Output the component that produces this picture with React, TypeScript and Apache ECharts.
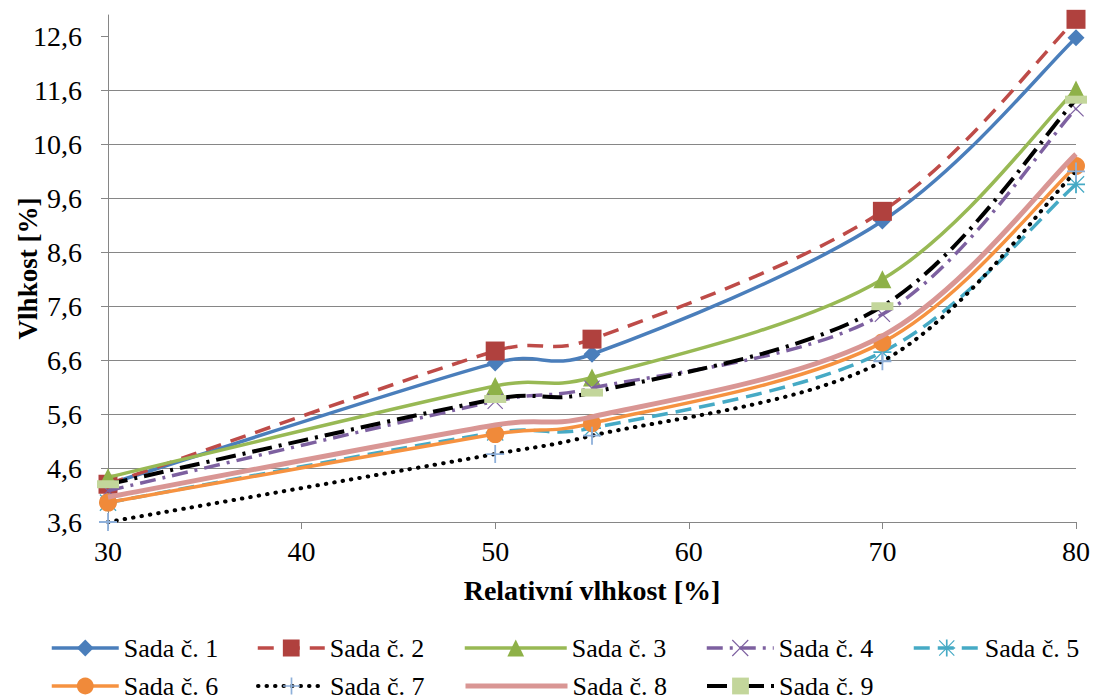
import React, { useEffect, useRef } from "react";
import * as echarts from "echarts";

const xValues = [30, 50, 55, 70, 80];
const sada1 = [4.3, 6.55, 6.71, 9.18, 12.58];
const sada2 = [4.3, 6.77, 6.99, 9.36, 12.92];
const sada3 = [4.43, 6.12, 6.28, 8.1, 11.62];
const sada4 = [4.18, 5.84, 6.08, 7.45, 11.26];
const sada5 = [3.96, 5.26, 5.34, 6.75, 9.86];
const sada6 = [3.96, 5.23, 5.43, 6.93, 10.2];
const sada7 = [3.6, 4.86, 5.2, 6.58, 10.1];
const sada8 = [4.06, 5.4, 5.55, 7.05, 10.42];
const sada9 = [4.3, 5.88, 6.0, 7.6, 11.43];
const seriesNames = ["Sada č. 1", "Sada č. 2", "Sada č. 3", "Sada č. 4", "Sada č. 5", "Sada č. 6", "Sada č. 7", "Sada č. 8", "Sada č. 9"];
const yTicks = [3.6, 4.6, 5.6, 6.6, 7.6, 8.6, 9.6, 10.6, 11.6, 12.6];
const xTicks = [30, 40, 50, 60, 70, 80];

const FONT = "Liberation Serif, Times New Roman, serif";

const X_PATH = "path://M1,0 L10,9 L19,0 L20,1 L11,10 L20,19 L19,20 L10,11 L1,20 L0,19 L9,10 L0,1 Z";
const PLUS_PATH = "path://M9,0 H11 V9 H20 V11 H11 V20 H9 V11 H0 V9 H9 Z";
const STAR_PATH =
  "path://M9,0 H11 V9 H20 V11 H11 V20 H9 V11 H0 V9 H9 Z M1.5,0.5 L10,9 L18.5,0.5 L19.5,1.5 L11,10 L19.5,18.5 L18.5,19.5 L10,11 L1.5,19.5 L0.5,18.5 L9,10 L0.5,1.5 Z";
const BAR_PATH = "path://M0,0 H22 V8 H0 Z";

let registered = false;
function registerCurve() {
  if (registered) return;
  registered = true;
  echarts.graphic.registerShape(
    "excelCurve",
    (echarts.graphic as any).extendShape({
      type: "excelCurve",
      shape: { points: [] as number[][] },
      buildPath(ctx: any, shape: any) {
        const p = shape.points;
        if (!p || p.length < 2) return;
        ctx.moveTo(p[0][0], p[0][1]);
        for (let i = 0; i < p.length - 1; i++) {
          const p0 = p[i - 1] || p[i];
          const p1 = p[i];
          const p2 = p[i + 1];
          const p3 = p[i + 2] || p[i + 1];
          const seg = Math.hypot(p2[0] - p1[0], p2[1] - p1[1]);
          let t1x = (p2[0] - p0[0]) / 6;
          let t1y = (p2[1] - p0[1]) / 6;
          let t2x = (p3[0] - p1[0]) / 6;
          let t2y = (p3[1] - p1[1]) / 6;
          const l1 = Math.hypot(t1x, t1y);
          const l2 = Math.hypot(t2x, t2y);
          const cap = seg / 2;
          if (l1 > cap && l1 > 0) {
            t1x *= cap / l1;
            t1y *= cap / l1;
          }
          if (l2 > cap && l2 > 0) {
            t2x *= cap / l2;
            t2y *= cap / l2;
          }
          ctx.bezierCurveTo(p1[0] + t1x, p1[1] + t1y, p2[0] - t2x, p2[1] - t2y, p2[0], p2[1]);
        }
      },
    })
  );
}

export default function App() {
  const ref = useRef<HTMLDivElement>(null);
  useEffect(() => {
    if (!ref.current) return;
    registerCurve();
    const chart = echarts.init(ref.current, null, { renderer: "svg" });
    const datasets = [sada1, sada2, sada3, sada4, sada5, sada6, sada7, sada8, sada9];
    const styles: any[] = [
      { color: "#4A7EBB", type: "solid", dash: null, width: 3.5, symbol: "diamond", size: 17, mColor: "#4A7EBB" },
      { color: "#BE4B48", type: [16, 10], dash: [16, 10], width: 3.5, symbol: "rect", size: 19, mColor: "#B0413E" },
      { color: "#98B954", type: "solid", dash: null, width: 3.5, symbol: "triangle", size: 18, mColor: "#8EB148" },
      { color: "#7D60A0", type: [16, 7, 3, 7], dash: [16, 7, 3, 7], width: 3.5, symbol: X_PATH, size: 16, mColor: "#7D60A0" },
      { color: "#46AAC5", type: [16, 8], dash: [16, 8], width: 3.5, symbol: STAR_PATH, size: 18, mColor: "#46AAC5" },
      { color: "#F69240", type: "solid", dash: null, width: 3.5, symbol: "circle", size: 18, mColor: "#F08A3A" },
      { color: "#000000", type: [0.5, 8], dash: [0.5, 8], width: 4, cap: "round", symbol: PLUS_PATH, size: 18, mColor: "#8EB0DA" },
      { color: "#D99694", type: "solid", dash: null, width: 5, symbol: "none", size: 0, mColor: "#D99694" },
      { color: "#000000", type: [20, 7, 3, 7], dash: [20, 7, 3, 7], width: 4, symbol: BAR_PATH, size: [22, 8], mColor: "#C3D69B" },
    ];
    const series: any[] = [];
    datasets.forEach((d, i) => {
      const s = styles[i];
      series.push({
        name: "curve" + (i + 1),
        type: "custom",
        coordinateSystem: "cartesian2d",
        data: [[xValues[0], d[0]]],
        silent: true,
        z: 10 + 2 * i,
        renderItem: (_params: any, api: any) => {
          const pts = xValues.map((x, j) => api.coord([x, d[j]]));
          return {
            type: "excelCurve",
            shape: { points: pts },
            style: {
              fill: "none",
              stroke: s.color,
              lineWidth: s.width,
              lineDash: s.dash || undefined,
              lineCap: s.cap || "butt",
            },
          };
        },
      });
      series.push({
        name: seriesNames[i],
        type: "line",
        data: xValues.map((x, j) => [x, d[j]]),
        symbol: s.symbol,
        symbolSize: s.size,
        showSymbol: s.symbol !== "none",
        lineStyle: { color: s.color, width: s.width, type: s.type, cap: s.cap || "butt", opacity: 0 },
        itemStyle: { color: s.mColor, borderWidth: 0 },
        emphasis: { disabled: true },
        z: 11 + 2 * i,
      });
    });
    const legendPos = [
      { left: 50, top: 635, w: 67 },
      { left: 256, top: 635, w: 67 },
      { left: 463, top: 635, w: 102 },
      { left: 705, top: 635, w: 67 },
      { left: 912, top: 635, w: 66 },
      { left: 50, top: 673, w: 67 },
      { left: 256, top: 673, w: 67 },
      { left: 463, top: 673, w: 102 },
      { left: 705, top: 673, w: 67 },
    ];
    const legends = seriesNames.map((n, i) => {
      const s = styles[i];
      const item: any = {
        name: n,
        lineStyle: { color: s.color, width: s.width, type: s.type, cap: s.cap || "butt", opacity: 1 },
      };
      if (s.symbol === "none") item.itemStyle = { opacity: 0 };
      return {
        data: [item],
        left: legendPos[i].left,
        top: legendPos[i].top,
        itemWidth: legendPos[i].w,
        itemHeight: 21,
        padding: 0,
        itemGap: 0,
        selectedMode: false,
        textStyle: { fontSize: 26, fontFamily: FONT, color: "#000", lineHeight: 26 },
      };
    });
    chart.setOption({
      animation: false,
      backgroundColor: "#fff",
      textStyle: { fontFamily: FONT },
      grid: { left: 108, right: 44, top: 15, bottom: 178, containLabel: false, outerBoundsMode: "none" },
      legend: legends,
      xAxis: {
        type: "value",
        min: 30,
        max: 80,
        interval: 10,
        name: "Relativní vlhkost [%]",
        nameLocation: "middle",
        nameGap: 54,
        nameMoveOverlap: false,
        nameTextStyle: { fontSize: 28, fontWeight: "bold", fontFamily: FONT, color: "#000" },
        axisLine: { show: true, lineStyle: { color: "#868686", width: 1 } },
        axisTick: { show: true, length: 7, lineStyle: { color: "#868686" } },
        axisLabel: { fontSize: 28, fontFamily: FONT, color: "#000", margin: 15, customValues: xTicks },
        splitLine: { show: false },
      },
      yAxis: {
        type: "value",
        min: 3.6,
        max: 13,
        interval: 1,
        name: "Vlhkost [%]",
        nameLocation: "middle",
        nameGap: 67,
        nameMoveOverlap: false,
        nameTextStyle: { fontSize: 27, fontWeight: "bold", fontFamily: FONT, color: "#000" },
        axisLine: { show: true, lineStyle: { color: "#868686", width: 1 } },
        axisTick: { show: true, length: 7, lineStyle: { color: "#868686" }, customValues: yTicks },
        axisLabel: {
          fontSize: 28,
          fontFamily: FONT,
          color: "#000",
          margin: 26,
          customValues: yTicks,
          formatter: (v: number) => v.toFixed(1).replace(".", ","),
        },
        splitLine: { show: true, showMaxLine: false, lineStyle: { color: "#868686", width: 1 } },
      },
      series,
    });
    return () => chart.dispose();
  }, []);
  return <div ref={ref} style={{ position: "absolute", left: 0, top: 0, width: 1120, height: 700 }} />;
}
